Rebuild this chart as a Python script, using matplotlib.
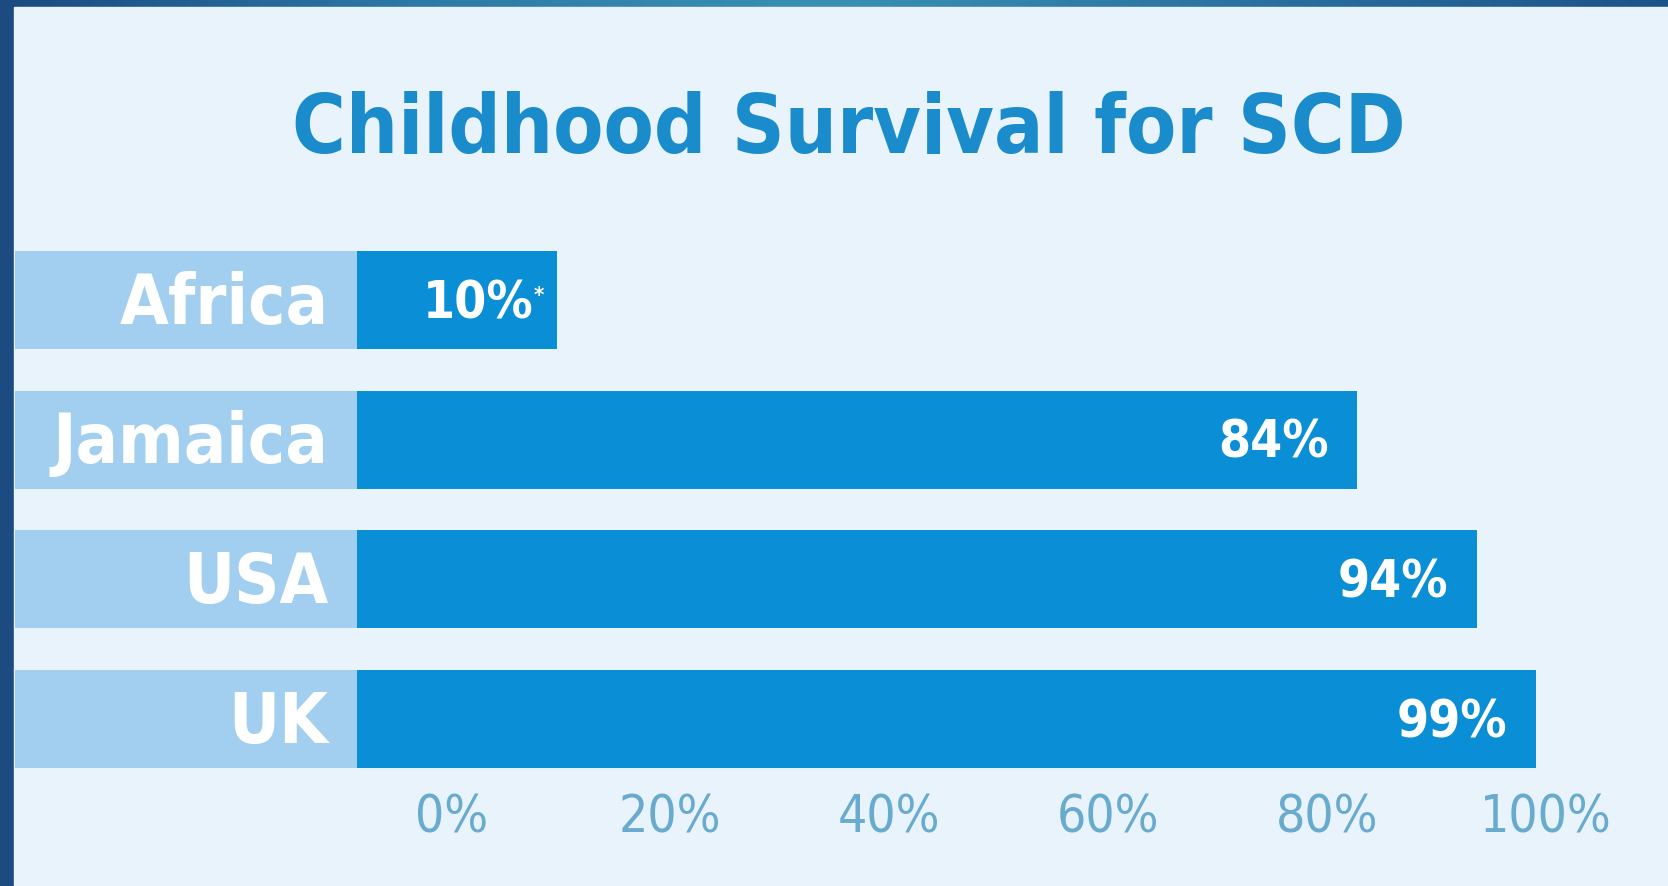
import numpy as np
import matplotlib
matplotlib.use("Agg")
import matplotlib.pyplot as plt
from matplotlib.patches import Rectangle
from matplotlib.colors import LinearSegmentedColormap
from matplotlib import font_manager as fm

# ---- data ----
countries = ["Africa", "Jamaica", "USA", "UK"]
survival = [10, 84, 94, 99]
footnotes = ["*", "", "", ""]
tick_values = [0, 20, 40, 60, 80, 100]
title = "Childhood Survival for SCD"

# ---- style ----
W, H, DPI = 1668, 886, 100
BAR = "#0a8fd6"
BOX = "#a2cff0"
BG = "#e9f3fb"
TITLE_C = "#1a8ccc"
TICK_C = "#68abcf"
plt.rcParams["font.family"] = ["Liberation Sans", "DejaVu Sans"]


def find_condensed(weight_bold):
    best = None
    for f in fm.fontManager.ttflist:
        nm = f.name.lower()
        fn = f.fname.lower()
        st = str(f.stretch).lower()
        if "serif" in nm or "mono" in nm or "serif" in fn or "mono" in fn:
            continue
        cond = ("condensed" in st or "narrow" in st or "condensed" in nm or "narrow" in nm
                or "condensed" in fn or "narrow" in fn)
        if not cond:
            continue
        w = f.weight if isinstance(f.weight, int) else (700 if "bold" in str(f.weight) else 400)
        isbold = w >= 600
        if isbold == weight_bold and f.style == "normal":
            if best is None or "liberation" in nm or "dejavu" in nm:
                best = f
    return best


fb = find_condensed(True)
fr = find_condensed(False)
BOLD = fm.FontProperties(fname=fb.fname) if fb else fm.FontProperties(family=["Liberation Sans"], weight="bold")
REG = fm.FontProperties(fname=fr.fname) if fr else fm.FontProperties(family=["Liberation Sans"])

MIN_BAR = 16.8        # infographic draws small bars with a minimum visible length
BOX_W = 28.7          # width of the label box (in bar units)

fig = plt.figure(figsize=(W / DPI, H / DPI), dpi=DPI)
renderer = fig.canvas.get_renderer()


def fit(t, target_px, size):
    t.set_fontsize(size)
    w = t.get_window_extent(renderer).width
    t.set_fontsize(min(size, size * target_px / w))


# frame with gradient (background)
bg_ax = fig.add_axes([0, 0, 1, 1], zorder=-10)
bg_ax.set_axis_off()
cmap = LinearSegmentedColormap.from_list("frame", ["#1b4a80", "#2d7aa6", "#3a90b2", "#2a72a0", "#1d5288"])
grad = np.linspace(0, 1, 256)[None, :]
bg_ax.imshow(grad, aspect="auto", cmap=cmap, extent=[0, 1, 0, 1])
bg_ax.add_patch(Rectangle((0, 0), 14 / W, 1, color="#1b4b80", transform=bg_ax.transAxes))
bg_ax.add_patch(Rectangle((14 / W, 0), 1, 1 - 7 / H, color=BG, transform=bg_ax.transAxes))
bg_ax.set_xlim(0, 1)
bg_ax.set_ylim(0, 1)

tt = fig.text(849 / W, 1 - 131 / H, title, ha="center", va="center",
              fontproperties=BOLD, color=TITLE_C)
fit(tt, 1114, 76)

# main axes: x in bar units, 0 at bar start
px_per_unit = 11.91
left_px = 14
x0 = -(357 - left_px) / px_per_unit
x1 = (W - 357) / px_per_unit
ax = fig.add_axes([left_px / W, 1 - 789 / H, 1 - left_px / W, (789 - 230) / H])
ax.set_facecolor("none")
ax.set_xlim(x0, x1)
ax.set_ylim(len(countries) - 0.5, -0.5)
for s in ax.spines.values():
    s.set_visible(False)
ax.set_yticks([])
ax.set_xticks([])

ypos = np.arange(len(countries))
lengths = [max(v, MIN_BAR) for v in survival]
ax.barh(ypos, [BOX_W] * len(countries), left=-BOX_W, height=0.7, color=BOX)
ax.barh(ypos, lengths, left=0, height=0.7, color=BAR)

name_texts = []
for y, name, v, L, fn in zip(ypos, countries, survival, lengths, footnotes):
    nt = ax.text(-2.4, y + 0.03, name, ha="right", va="center", color="white",
                 fontproperties=BOLD)
    name_texts.append(nt)
    vt = ax.text(L - 2.4, y + 0.03, f"{v}%", ha="right", va="center", color="white",
                 fontproperties=BOLD, fontsize=37)
    if fn:
        vt.set_x(L - 2.0)
        ax.annotate(fn, xy=(1, 1), xycoords=vt, xytext=(0, -5), textcoords="offset points",
                    ha="left", va="top", color="white", fontproperties=BOLD, fontsize=16)
# size country names so "Jamaica" spans its box as in the original
fit(name_texts[1], 276, 56)
for nt in name_texts:
    nt.set_fontsize(name_texts[1].get_fontsize())

# secondary percentage axis, drawn with its own (decorative) scale
off, k = 7.93, 0.919
sec = ax.secondary_xaxis("bottom", functions=(lambda x: (x - off) / k, lambda t: off + k * t))
sec.set_xticks(tick_values)
sec.set_xticklabels([f"{t}%" for t in tick_values], fontproperties=REG)
sec.tick_params(length=0, pad=3, labelsize=37, labelcolor=TICK_C)
sec.spines["bottom"].set_visible(False)

fig.savefig("out.png", dpi=DPI)
